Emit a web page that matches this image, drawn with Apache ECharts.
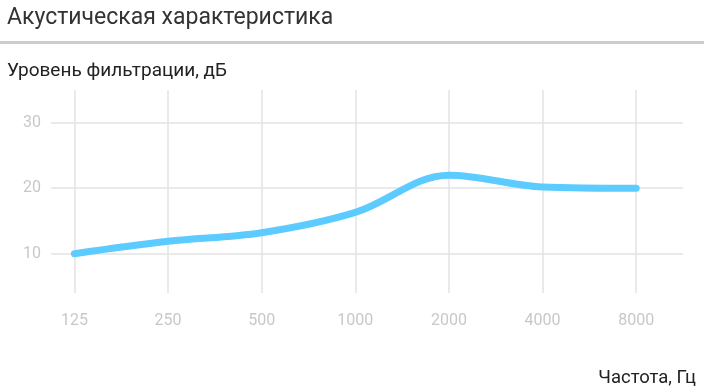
<!DOCTYPE html>
<html>
<head>
<meta charset="utf-8">
<script src="https://cdn.jsdelivr.net/npm/echarts@6/dist/echarts.min.js"></script>
<style>
html,body{margin:0;padding:0;background:#fff;}
#chart{width:704px;height:389px;}
</style>
</head>
<body>
<div id="chart"></div>
<script>
const categories = ['125', '250', '500', '1000', '2000', '4000', '8000'];
const filtration = [10, 11.9, 13.2, 16.3, 22, 20.2, 20];
const yTicks = [10, 20, 30];
const titleText = 'Акустическая характеристика';
const yName = 'Уровень фильтрации, дБ';
const xName = 'Частота, Гц';

const FONT = 'Roboto';
const chart = echarts.init(document.getElementById('chart'), null, {renderer: 'canvas'});
const idx = categories.map((c, i) => i);
chart.setOption({
  animation: false,
  backgroundColor: '#fff',
  textStyle: {fontFamily: FONT},
  title: [
    {text: titleText, left: 2, top: 2, textStyle: {fontFamily: FONT, fontSize: 23, fontWeight: 'normal', color: '#333'}},
    {text: yName, left: 2, top: 57, textStyle: {fontFamily: FONT, fontSize: 19, fontWeight: 'normal', color: '#222'}},
    {text: xName, right: 3, top: 364, textStyle: {fontFamily: FONT, fontSize: 18.5, fontWeight: 'normal', color: '#222'}}
  ],
  graphic: [
    {type: 'rect', shape: {x: 0, y: 41, width: 704, height: 3}, style: {fill: '#cccccc'}}
  ],
  grid: {left: 51, right: 21, top: 90, bottom: 96},
  xAxis: {
    type: 'value',
    min: -0.25,
    max: 6.5,
    axisLine: {show: false},
    axisTick: {show: false, customValues: idx},
    axisLabel: {
      customValues: idx,
      formatter: v => categories[Math.round(v)],
      color: '#c8c8c8', fontSize: 16, margin: 20, fontFamily: FONT
    },
    splitLine: {show: true, lineStyle: {color: '#e3e3e3', width: 1.5}}
  },
  yAxis: {
    type: 'value',
    min: 4,
    max: 35,
    axisLine: {show: false},
    axisTick: {show: false, customValues: yTicks},
    axisLabel: {customValues: yTicks, color: '#c8c8c8', fontSize: 16, margin: 10, fontFamily: FONT},
    splitLine: {show: true, lineStyle: {color: '#e3e3e3', width: 1.5}}
  },
  series: [{
    type: 'line',
    data: filtration.map((v, i) => [idx[i], v]),
    smooth: 0.35,
    showSymbol: false,
    lineStyle: {color: '#5ccbff', width: 7, cap: 'round'},
    itemStyle: {color: '#5ccbff'}
  }]
});
</script>
</body>
</html>
